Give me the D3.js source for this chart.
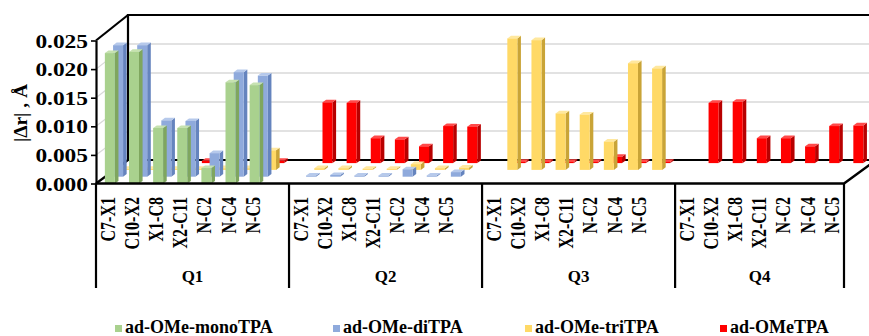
<!DOCTYPE html>
<html>
<head>
<meta charset="utf-8">
<script src="https://cdn.jsdelivr.net/npm/d3@7"></script>
<style>
  html, body { margin: 0; padding: 0; background: #ffffff; }
  svg { display: block; }
  svg text { font-family: "Liberation Serif", "Times New Roman", "DejaVu Serif", serif !important; font-weight: bold; fill: #000; }
</style>
</head>
<body>
<svg id="chart" width="869" height="336"></svg>
<script>
// ---- data ----------------------------------------------------------------
const groups = ["Q1", "Q2", "Q3", "Q4"];
const categories = ["C7-X1", "C10-X2", "X1-C8", "X2-C11", "N-C2", "N-C4", "N-C5"];
const seriesNames = ["ad-OMe-monoTPA", "ad-OMe-diTPA", "ad-OMe-triTPA", "ad-OMeTPA"];

// |Δr| values (Å), seven bonds per group Q1..Q4; null = no value
const monoTPA = [
  0.0228, 0.0230, 0.0097, 0.0097, 0.0027, 0.0177, 0.0172,
  null, null, null, null, null, null, null,
  null, null, null, null, null, null, null,
  null, null, null, null, null, null, null
];
const diTPA = [
  0.0229, 0.0229, 0.0098, 0.0097, 0.0041, 0.0182, 0.0176,
  0.0002, 0.0003, 0.0002, 0.0002, 0.0013, 0.0002, 0.0008,
  null, null, null, null, null, null, null,
  null, null, null, null, null, null, null
];
const triTPA = [
  0.0002, 0.0002, 0.0002, 0.0002, 0.0003, 0.0003, 0.0034,
  0.0003, 0.0003, 0.0002, 0.0002, 0.0010, 0.0003, 0.0004,
  0.0228, 0.0225, 0.0098, 0.0096, 0.0049, 0.0185, 0.0176,
  null, null, null, null, null, null, null
];
const OMeTPA = [
  0.0002, 0.0002, 0.0002, 0.0004, 0.0003, 0.0002, 0.0004,
  0.0105, 0.0104, 0.0043, 0.0041, 0.0029, 0.0064, 0.0063,
  0.0002, 0.0002, 0.0002, 0.0002, 0.0011, 0.0002, 0.0002,
  0.0104, 0.0106, 0.0043, 0.0043, 0.0029, 0.0064, 0.0065
];
const seriesValues = [monoTPA, diTPA, triTPA, OMeTPA];
const yTicks = [0, 0.005, 0.010, 0.015, 0.020, 0.025];
const axisTitle = "|\u0394r| , \u00C5";

// ---- styling -------------------------------------------------------------
const serif = "'Liberation Serif', 'Times New Roman', 'DejaVu Serif', serif";
const faceColors = [
  { front: "#A9D18E", side: "#7FA65F", top: "#C6E2B0" },
  { front: "#8FAADC", side: "#6584BE", top: "#B6C9EB" },
  { front: "#FFD966", side: "#C9A437", top: "#FFE89E" },
  { front: "#FF0000", side: "#B80000", top: "#FF4A4A" }
];

const svg = d3.select("#chart");

// 3-D box frame
const floorFront = 183.5, floorLeft = 96, floorRight = 844;
const depthDX = 32, depthDY = -23.5;     // front -> back wall
const wallTop = 15;
const vMax = 0.025;

// one slot per bond, with an empty slot separating the groups
const slotKeys = [];
groups.forEach((g, gi) => {
  categories.forEach(c => slotKeys.push(g + "|" + c));
  if (gi < groups.length - 1) slotKeys.push(g + "|");
});
const x = d3.scaleBand().domain(slotKeys).range([floorLeft, floorRight]).padding(0);

// depth rows: series 0 at the front, series 3 at the back
const rowDX = d3.scaleLinear().domain([0, 1]).range([0, 8.2]);
const rowDY = d3.scaleLinear().domain([0, 1]).range([0, -6.8]);

const yFront = d3.scaleLinear().domain([0, vMax]).range([floorFront, 40.5]);
const yBack = d3.scaleLinear().domain([0, vMax]).range([floorFront + depthDY, wallTop]);
function yRow(k) {
  const base = floorFront + rowDY(k);
  const f = -rowDY(k) / -depthDY;
  const span = (floorFront - 40.5) + f * ((floorFront + depthDY - wallTop) - (floorFront - 40.5));
  return d3.scaleLinear().domain([0, vMax]).range([base, base - span]);
}

const backL = floorLeft + depthDX, backR = floorRight + depthDX, backY = floorFront + depthDY;

// back-wall and side-wall gridlines
const grid = svg.append("g");
yTicks.filter(v => v > 0 && v < vMax).forEach(v => {
  grid.append("line").attr("x1", backL).attr("x2", backR + 10)
    .attr("y1", yBack(v)).attr("y2", yBack(v))
    .attr("stroke", "#D9D9D9").attr("stroke-width", 1.4);
  grid.append("line").attr("x1", floorLeft).attr("x2", backL)
    .attr("y1", yFront(v)).attr("y2", yBack(v))
    .attr("stroke", "#D9D9D9").attr("stroke-width", 1.2);
});

// wall and floor outlines behind the bars
const frame = svg.append("g").attr("fill", "none").attr("stroke", "#000").attr("stroke-width", 2.2);
frame.append("path").attr("d", `M${backL},${backY}V${wallTop}H${backR + 10}`);
frame.append("path").attr("d", `M${backL},${backY}H${backR + 10}`);
frame.append("path").attr("d", `M${floorLeft},${yFront(vMax)}L${backL},${wallTop}`);
frame.append("path").attr("d", `M${floorLeft},${floorFront}L${backL},${backY}`);

// ---- bars ----------------------------------------------------------------
const barW = 10, sideDX = 3.6, sideDY = -2.6, barShift = 1.8;
const bars = svg.append("g");
for (let k = seriesValues.length - 1; k >= 0; k--) {
  const ys = yRow(k);
  const col = faceColors[k];
  const data = [];
  groups.forEach((g, gi) => categories.forEach((c, ci) => {
    const v = seriesValues[k][gi * categories.length + ci];
    if (v !== null) data.push({ key: g + "|" + c, v });
  }));
  const gb = bars.append("g");
  data.forEach(d => {
    const cx = x(d.key) + x.bandwidth() / 2 + barShift + rowDX(k);
    const x0 = cx - barW / 2, x1 = cx + barW / 2;
    const yb = ys(0), yt = ys(d.v);
    gb.append("path").attr("fill", col.side)
      .attr("d", `M${x1},${yb}L${x1 + sideDX},${yb + sideDY}L${x1 + sideDX},${yt + sideDY}L${x1},${yt}Z`);
    gb.append("path").attr("fill", col.top)
      .attr("d", `M${x0},${yt}L${x0 + sideDX},${yt + sideDY}L${x1 + sideDX},${yt + sideDY}L${x1},${yt}Z`);
    gb.append("rect").attr("fill", col.front)
      .attr("x", x0).attr("y", yt).attr("width", barW).attr("height", Math.max(0, yb - yt));
  });
}

// front floor edges
const front = svg.append("g").attr("fill", "none").attr("stroke", "#000").attr("stroke-width", 2.4);
front.append("path").attr("d", `M${floorLeft},${floorFront}H${floorRight}L${backR},${backY}`);

// ---- value axis ----------------------------------------------------------
const yAxis = svg.append("g").attr("transform", `translate(${floorLeft},0)`)
  .call(d3.axisLeft(yFront).tickValues(yTicks).tickFormat(d3.format(".3f")).tickSizeInner(5).tickSizeOuter(0));
yAxis.attr("font-family", serif).attr("font-size", null);
yAxis.select(".domain").attr("stroke", "#000").attr("stroke-width", 2.2);
yAxis.selectAll(".tick line").attr("stroke", "#000").attr("stroke-width", 1.6);
yAxis.selectAll(".tick text")
  .attr("font-family", serif).attr("font-weight", "bold").attr("font-size", 19.5)
  .attr("x", null)
  .attr("text-anchor", "end")
  .attr("transform", "translate(-8,0) scale(1.2,1)")
  .attr("dy", "0.34em");

svg.append("text")
  .attr("font-family", serif).attr("font-weight", "bold")
  .attr("transform", "translate(20,113) rotate(-90)")
  .attr("text-anchor", "middle").attr("dy", "0.35em")
  .attr("font-size", 19.5)
  .text(axisTitle);

// ---- category axis -------------------------------------------------------
const cat = svg.append("g").attr("font-family", serif).attr("font-weight", "bold");
const dividerBottom = 288;
const groupEdges = groups.map(g => x(g + "|" + categories[0]));
groupEdges.push(floorRight);
groupEdges.forEach(xe => {
  cat.append("line").attr("x1", xe).attr("x2", xe)
    .attr("y1", floorFront).attr("y2", dividerBottom)
    .attr("stroke", "#000").attr("stroke-width", 2.2);
});
groups.forEach((g, gi) => {
  categories.forEach(c => {
    const cx = x(g + "|" + c) + x.bandwidth() / 2;
    cat.append("text")
      .attr("transform", `translate(${cx},197) scale(1.25,1) rotate(-90)`)
      .attr("text-anchor", "end").attr("dy", "0.34em")
      .attr("font-size", 16)
      .text(c);
  });
  const mid = (groupEdges[gi] + groupEdges[gi + 1]) / 2;
  cat.append("text")
    .attr("x", mid).attr("y", 282)
    .attr("text-anchor", "middle")
    .attr("font-size", 17)
    .text(g);
});

// ---- legend --------------------------------------------------------------
const legendX = [115, 333, 525, 720];
const legend = svg.append("g").attr("font-family", serif).attr("font-weight", "bold");
seriesNames.forEach((name, i) => {
  legend.append("rect").attr("x", legendX[i]).attr("y", 325).attr("width", 7).attr("height", 7)
    .attr("fill", faceColors[i].front);
  legend.append("text").attr("x", legendX[i] + 10).attr("y", 333)
    .attr("font-size", 18).text(name);
});
</script>
</body>
</html>
